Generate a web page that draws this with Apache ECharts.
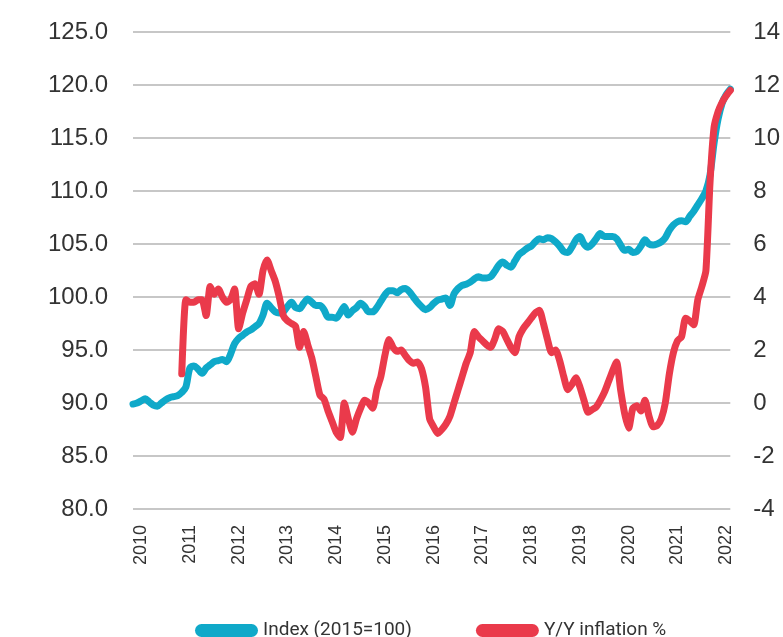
<!DOCTYPE html>
<html>
<head>
<meta charset="utf-8">
<script src="https://cdn.jsdelivr.net/npm/echarts@6/dist/echarts.min.js"></script>
<style>
	html, body { margin: 0; padding: 0; background: #fff; }
	#chart { width: 783px; height: 637px; }
</style>
</head>
<body>
<div id="chart"></div>
<script>
// monthly, 2009-11 .. 2022-02
var months = [];
for (var i = 0; i < 148; i++) {
	var k = i + 10; // 2009-11 is month index 10 of 2009
	var y = 2009 + Math.floor(k / 12);
	var mo = (k % 12) + 1;
	months.push(y + '-' + (mo < 10 ? '0' + mo : mo));
}

var indexValues = [
	89.9, 90.0, 90.2, 90.4, 90.1, 89.8, 89.7, 90.0, 90.3, 90.5, 90.6, 90.7,
	91.0, 91.5, 93.3, 93.5, 93.2, 92.8, 93.3, 93.6, 93.9, 94.0, 94.1, 93.9,
	94.6, 95.6, 96.1, 96.4, 96.7, 96.9, 97.2, 97.5, 98.3, 99.4, 99.0, 98.6,
	98.5, 98.6, 99.1, 99.5, 99.0, 98.9, 99.4, 99.8, 99.5, 99.2, 99.2, 98.8,
	98.1, 98.1, 98.0, 98.5, 99.1, 98.3, 98.7, 99.0, 99.4, 99.1, 98.6, 98.6,
	99.0, 99.6, 100.2, 100.6, 100.6, 100.4, 100.7, 100.8, 100.5, 100.0, 99.5, 99.1,
	98.8, 99.0, 99.4, 99.7, 99.8, 99.9, 99.2, 100.3, 100.8, 101.1, 101.2, 101.4,
	101.7, 101.9, 101.8, 101.8, 101.9, 102.4, 103.0, 103.3, 103.0, 102.8, 103.4, 104.0,
	104.3, 104.6, 104.8, 105.2, 105.5, 105.4, 105.6, 105.5, 105.2, 104.8, 104.3, 104.2,
	104.7, 105.4, 105.7, 105.0, 104.7, 105.0, 105.5, 106.0, 105.7, 105.7, 105.7, 105.5,
	104.9, 104.4, 104.5, 104.2, 104.3, 104.8, 105.4, 105.0, 104.9, 105.0, 105.2, 105.6,
	106.3, 106.8, 107.1, 107.2, 107.1, 107.6, 108.1, 108.7, 109.3, 110.0, 111.5, 114.5,
	116.8, 118.3, 119.1, 119.6
];

var inflationValues = [
	null, null, null, null, null, null, null, null, null, null, null, null,
	1.1, 3.9, 3.8, 3.8, 3.9, 3.9, 3.3, 4.4, 4.1, 4.3, 4.0, 3.8,
	3.9, 4.3, 2.8, 3.4, 3.9, 4.4, 4.5, 4.1, 5.0, 5.4, 5.0, 4.6,
	4.0, 3.3, 3.1, 3.0, 2.9, 2.1, 2.7, 2.2, 1.7, 1.0, 0.3, 0.15,
	-0.3, -0.7, -1.1, -1.3, 0.0, -0.6, -1.1, -0.6, -0.2, 0.1, 0.0, -0.2,
	0.5, 1.0, 1.8, 2.4, 2.1, 1.95, 2.0, 1.8, 1.6, 1.5, 1.55, 1.3,
	0.6, -0.6, -0.9, -1.15, -1.0, -0.8, -0.5, 0.0, 0.5, 1.0, 1.5, 1.9,
	2.7, 2.5, 2.35, 2.2, 2.1, 2.4, 2.8, 2.7, 2.4, 2.1, 1.9, 2.5,
	2.8, 3.0, 3.2, 3.4, 3.5, 3.0, 2.4, 1.9, 2.0, 1.6, 1.0, 0.5,
	0.7, 0.95, 0.6, 0.1, -0.35, -0.25, -0.15, 0.1, 0.4, 0.8, 1.2, 1.55,
	0.5, -0.4, -0.95, -0.2, -0.1, -0.3, 0.1, -0.5, -0.9, -0.85, -0.6, 0.0,
	1.1, 1.9, 2.35, 2.5, 3.2, 3.1, 2.95, 3.9, 4.4, 5.0, 8.3, 10.4,
	11.0, 11.35, 11.6, 11.8
];

var leftTicks = { min: 80, max: 125, interval: 5 };
var rightTicks = { min: -4, max: 14, interval: 2 };

var blue = '#0fa9c9';
var red = '#ea3a4b';
var pill = 'path://M6.5,0 H56.5 A6.5,6.5 0 0 1 56.5,13 H6.5 A6.5,6.5 0 0 1 6.5,0 Z';

var chart = echarts.init(document.getElementById('chart'));

var option = {
	animation: false,
	backgroundColor: '#fff',
	grid: { left: 133, right: 48, top: 32, bottom: 128 },
	legend: {
		top: 616,
		left: 190,
		itemWidth: 63,
		itemHeight: 13,
		itemGap: 64,
		textStyle: { fontFamily: 'Roboto, sans-serif', fontSize: 19, color: '#333' },
		data: [
			{ name: 'Index (2015=100)', icon: pill },
			{ name: 'Y/Y inflation %', icon: pill }
		]
	},
	xAxis: {
		type: 'category',
		data: months,
		boundaryGap: false,
		axisLine: { show: false },
		axisTick: { show: false },
		axisLabel: {
			rotate: 90,
			margin: 16,
			fontFamily: 'Liberation Sans, Arial, sans-serif',
			fontSize: 18,
			color: '#333',
			interval: function(idx, v) { return v.slice(5) === '01'; },
			formatter: function(v) { return v.slice(0, 4); }
		},
		splitLine: { show: false }
	},
	yAxis: [
		{
			type: 'value',
			min: leftTicks.min,
			max: leftTicks.max,
			interval: leftTicks.interval,
			axisLine: { show: false },
			axisTick: { show: false },
			axisLabel: {
				margin: 25,
				fontFamily: 'Liberation Sans, Arial, sans-serif',
				fontSize: 24,
				color: '#333',
				formatter: function(v) { return v.toFixed(1); }
			},
			splitLine: { lineStyle: { color: '#b5b5b5', width: 1.5 } }
		},
		{
			type: 'value',
			min: rightTicks.min,
			max: rightTicks.max,
			interval: rightTicks.interval,
			axisLine: { show: false },
			axisTick: { show: false },
			axisLabel: {
				margin: 23,
				fontFamily: 'Liberation Sans, Arial, sans-serif',
				fontSize: 24,
				color: '#333'
			},
			splitLine: { show: false }
		}
	],
	series: [
		{
			name: 'Index (2015=100)',
			type: 'line',
			yAxisIndex: 0,
			data: indexValues,
			showSymbol: false,
			smooth: 0.3,
			color: blue,
			lineStyle: { color: blue, width: 7, cap: 'round', join: 'round' }
		},
		{
			name: 'Y/Y inflation %',
			type: 'line',
			yAxisIndex: 1,
			data: inflationValues,
			showSymbol: false,
			smooth: 0.2,
			color: red,
			lineStyle: { color: red, width: 7, cap: 'round', join: 'round' }
		}
	]
};

chart.setOption(option);
</script>
</body>
</html>
